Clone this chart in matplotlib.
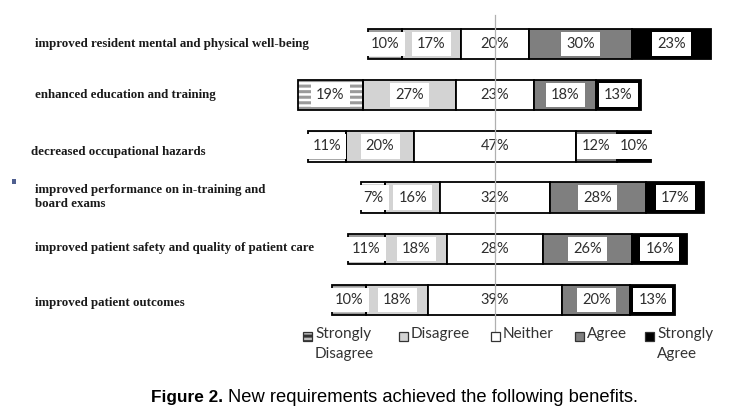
import matplotlib
matplotlib.use("Agg")
import matplotlib.pyplot as plt
from matplotlib.patches import Rectangle
import numpy as np

categories = [
    "improved resident mental and physical well-being",
    "enhanced education and training",
    "decreased occupational hazards",
    "improved performance on in-training and\nboard exams",
    "improved patient safety and quality of patient care",
    "improved patient outcomes",
]
series_names = ["Strongly\nDisagree", "Disagree", "Neither", "Agree", "Strongly\nAgree"]
strongly_disagree = [10, 19, 11, 7, 11, 10]
disagree = [17, 27, 20, 16, 18, 18]
neither = [20, 23, 47, 32, 28, 39]
agree = [30, 18, 12, 28, 26, 20]
strongly_agree = [23, 13, 10, 17, 16, 13]

series = [strongly_disagree, disagree, neither, agree, strongly_agree]
colors = ["white", "#d3d3d3", "white", "#7f7f7f", "black"]
hatches = ["---", None, None, None, None]

plt.rcParams["hatch.linewidth"] = 2.2

W, H = 747, 419
fig = plt.figure(figsize=(W / 100, H / 100), dpi=100)

def px_x(x):
    return x / W

def px_y(y):
    return 1 - y / H

ax_left, ax_right = 290, 720
ax_top, ax_bot = 15, 333
ax = fig.add_axes([px_x(ax_left), px_y(ax_bot), px_x(ax_right) - px_x(ax_left), px_y(ax_top) - px_y(ax_bot)])

scale = 3.43
center_px = 495
ax.set_xlim((ax_left - center_px) / scale, (ax_right - center_px) / scale)
row0_px, row_step = 44, 51.2
ax.set_ylim((ax_bot - row0_px) / row_step, (ax_top - row0_px) / row_step)
ax.axis("off")

n = len(categories)
y = np.arange(n)
vals = np.array(series, dtype=float)  # shape (5, n)
start = -(vals[0] + vals[1] + vals[2] / 2.0)
left = start.copy()
bar_h = 0.59
for k in range(len(series)):
    w = vals[k]
    if hatches[k]:
        ax.barh(y, w, left=left, height=bar_h, color="white", edgecolor="#9a9a9a",
                hatch=hatches[k], linewidth=0, zorder=2)
        ax.barh(y, w, left=left, height=bar_h, color="none", edgecolor="black",
                linewidth=1.3, zorder=3)
    else:
        ax.barh(y, w, left=left, height=bar_h, color=colors[k], edgecolor="black",
                linewidth=1.3, zorder=2)
    for i in range(n):
        ax.text(left[i] + w[i] / 2.0, y[i], f"{int(w[i])}%", ha="center", va="center",
                fontsize=10.5, family="Lato", color="#2e2e2e", zorder=4,
                bbox=dict(boxstyle="square,pad=0.36", facecolor="white", edgecolor="none"))
    left = left + w

ax.plot([0, 0], [ax.get_ylim()[0], ax.get_ylim()[1]], color="#b0b0b0", lw=0.9, zorder=5,
        clip_on=False)

# category labels
label_y_px = [44, 95, 152, 197, 248, 303]
label_x_px = [35, 35, 31, 35, 35, 35]
for i, cat in enumerate(categories):
    fig.text(px_x(label_x_px[i]), px_y(label_y_px[i]), cat, ha="left", va="center",
             fontsize=9.3, fontweight="bold", family="Liberation Serif", color="#1a1a1a",
             linespacing=1.2)

# small artifact square
fig.patches.append(Rectangle((px_x(12), px_y(184)), 4 / W, 5 / H, transform=fig.transFigure,
                             facecolor="#4f5f8f", edgecolor="none"))

# legend (drawn manually: marker beside the first text line)
leg_marker_x = [303, 399, 491, 575, 645]
leg_y = 336
msize = 9
for k, name in enumerate(series_names):
    mx = leg_marker_x[k]
    rect = Rectangle((px_x(mx), px_y(leg_y + msize / 2)), msize / W, msize / H,
                     transform=fig.transFigure, facecolor=colors[k], edgecolor="#333333",
                     linewidth=0.9, hatch=("---" if hatches[k] else None))
    if hatches[k]:
        rect.set_facecolor("#bdbdbd")
    fig.patches.append(rect)
    fig.text(px_x(mx + 12), px_y(leg_y - 9), name, ha="left", va="top",
             fontsize=11, family="Lato", color="#333333", linespacing=1.5)

# caption
fig.text(px_x(223), px_y(397), "Figure 2.", ha="right", va="center", fontsize=12.4,
         fontweight="bold", family="Liberation Sans", color="black")
fig.text(px_x(228), px_y(397), "New requirements achieved the following benefits.", ha="left",
         va="center", fontsize=13.2, family="Liberation Sans", color="black")

fig.savefig("out.png", dpi=100)
